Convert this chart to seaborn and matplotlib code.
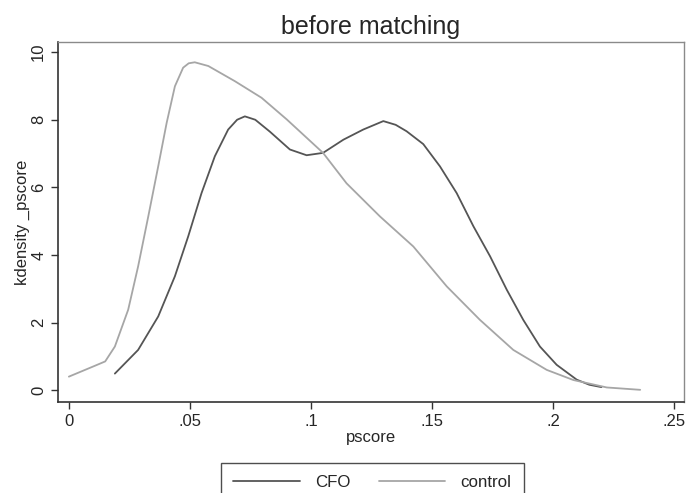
import pandas as pd
import matplotlib.pyplot as plt
import seaborn as sns

# kernel density of the propensity score
cfo_x = [0.019, 0.0286, 0.0369, 0.0438, 0.0493, 0.0548, 0.0603, 0.0658, 0.0695, 0.0727,
         0.077, 0.083, 0.0913, 0.0982, 0.105, 0.1134, 0.1216, 0.1299, 0.135, 0.1395,
         0.1464, 0.1533, 0.1602, 0.1671, 0.174, 0.1809, 0.1877, 0.1946, 0.2015, 0.2098,
         0.215, 0.220]
cfo_y = [0.49, 1.19, 2.18, 3.37, 4.55, 5.83, 6.92, 7.71, 8.00, 8.10,
         8.00, 7.65, 7.12, 6.95, 7.02, 7.41, 7.71, 7.96, 7.85, 7.66,
         7.28, 6.62, 5.83, 4.85, 3.96, 2.97, 2.08, 1.29, 0.75, 0.31,
         0.16, 0.09]

ctrl_x = [0.0, 0.0107, 0.015, 0.019, 0.0245, 0.0286, 0.0328, 0.0369, 0.0404, 0.0438,
          0.0472, 0.0495, 0.052, 0.0576, 0.0686, 0.0796, 0.090, 0.105, 0.1147, 0.1285,
          0.1423, 0.1561, 0.1698, 0.1836, 0.1974, 0.2084, 0.2222, 0.236]
ctrl_y = [0.40, 0.72, 0.85, 1.29, 2.38, 3.66, 5.14, 6.62, 7.91, 8.99,
          9.54, 9.67, 9.70, 9.59, 9.14, 8.65, 8.01, 7.02, 6.12, 5.14,
          4.25, 3.07, 2.08, 1.19, 0.60, 0.30, 0.08, 0.01]

x_ticks = [0, 0.05, 0.1, 0.15, 0.2, 0.25]
x_tick_labels = ["0", ".05", ".1", ".15", ".2", ".25"]
y_ticks = [0, 2, 4, 6, 8, 10]

df = pd.concat([
    pd.DataFrame({"pscore": cfo_x, "density": cfo_y, "group": "CFO"}),
    pd.DataFrame({"pscore": ctrl_x, "density": ctrl_y, "group": "control"}),
])

sns.set_style("white")
plt.rcParams["font.family"] = ["Liberation Sans", "DejaVu Sans"]

fig = plt.figure(figsize=(6.87, 4.93), dpi=100)
ax = fig.add_axes([0.0844, 0.1846, 0.9112, 0.7302])

sns.lineplot(data=df, x="pscore", y="density", hue="group",
             palette={"CFO": "#555555", "control": "#a6a6a6"},
             linewidth=1.3, sort=False, legend=False, ax=ax)

ax.set_xlim(-0.0045, 0.2541)
ax.set_ylim(-0.35, 10.3)
ax.set_xticks(x_ticks)
ax.set_xticklabels(x_tick_labels)
ax.set_yticks(y_ticks)
ax.tick_params(axis="both", direction="out", length=5, width=1, color="#333333",
               labelsize=12, bottom=True, left=True)
for lab in ax.get_yticklabels():
    lab.set_rotation(90)
    lab.set_va("center")

for side in ["left", "bottom"]:
    ax.spines[side].set_color("#333333")
    ax.spines[side].set_linewidth(1.2)
for side in ["top", "right"]:
    ax.spines[side].set_color("#8a8a8a")
    ax.spines[side].set_linewidth(1.0)

ax.set_xlabel("pscore", fontsize=12, labelpad=1)
ax.set_ylabel("kdensity _pscore", fontsize=12, labelpad=1)
ax.set_title("before matching", fontsize=18, pad=6)

handles = [plt.Line2D([], [], color="#555555", linewidth=1.3),
           plt.Line2D([], [], color="#a6a6a6", linewidth=1.3)]
leg = fig.legend(handles, ["CFO", "control"], loc="upper center",
                 bbox_to_anchor=(0.542, 0.0615), ncol=2, fontsize=12.2,
                 handlelength=3.9, handletextpad=0.9, columnspacing=1.7,
                 borderpad=0.75, fancybox=False, frameon=True, borderaxespad=0)
leg.get_frame().set_edgecolor("#222222")
leg.get_frame().set_linewidth(1.0)

fig.savefig("out.png", dpi=100)
